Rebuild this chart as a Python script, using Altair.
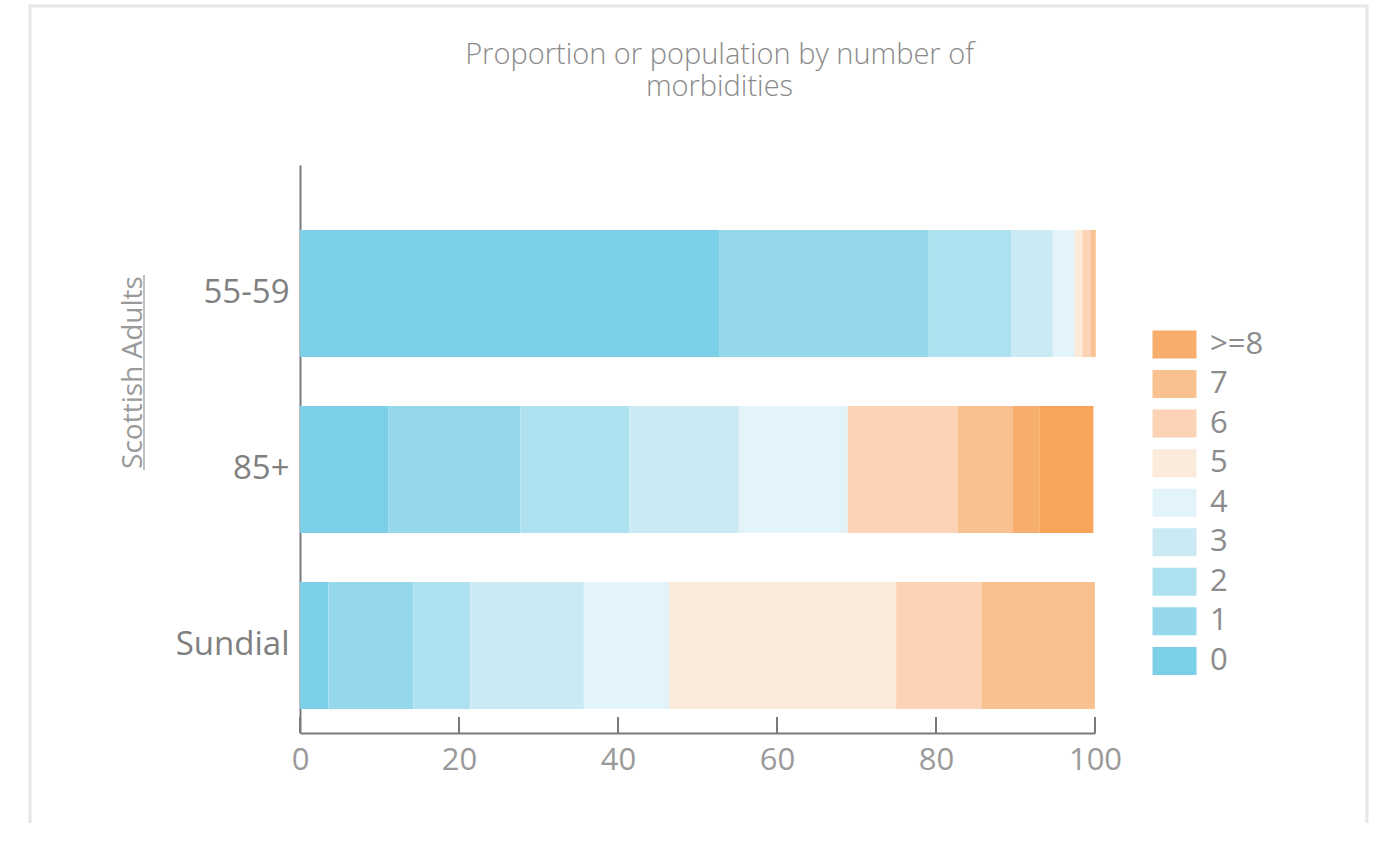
import altair as alt
import pandas as pd

# Population groups (top to bottom) and morbidity-count categories (left to right)
groups = ["55-59", "85+", "Sundial"]
counts = ["0", "1", "2", "3", "4", "5", "6", "7", ">=8", "9+"]

# Percentage of each group with the given number of morbidities
shares_55_59 = [52.8, 26.2, 10.5, 5.2, 2.7, 1.0, 1.1, 0.6, 0.0, 0.0]
shares_85_plus = [11.1, 16.6, 13.7, 13.8, 13.7, 0.0, 13.8, 6.9, 3.4, 6.8]
shares_sundial = [3.57, 10.71, 7.14, 14.29, 10.71, 28.57, 10.71, 14.29, 0.0, 0.0]

# Colours per category, same order as `counts`
palette = ["#7BCFE6", "#96D8EB", "#AEE1EF", "#CAEBF4", "#E2F4F9",
           "#FBEBDA", "#FCD4B5", "#F9C190", "#F7AD6B", "#F7A55A"]

legend_counts = [">=8", "7", "6", "5", "4", "3", "2", "1", "0"]
x_ticks = [0, 20, 40, 60, 80, 100]

rows = []
for g, shares in zip(groups, [shares_55_59, shares_85_plus, shares_sundial]):
    for rank, (c, s) in enumerate(zip(counts, shares)):
        rows.append({"group": g, "count": c, "share": s, "rank": rank})
df = pd.DataFrame(rows)

W, H = 795, 568
FONT = "Open Sans"

color_domain = legend_counts + ["9+"]
color_range = [palette[counts.index(c)] for c in color_domain]

x_scale = alt.Scale(domain=[0, 100], nice=False)
x_axis = alt.Axis(
    values=x_ticks, title=None, grid=False, ticks=False,
    domainColor="#7a7a7a", domainWidth=2,
    labelFont=FONT, labelFontSize=31, labelColor="#9a9a9a",
    labelPadding=12, labelFlush=False,
)

bars = alt.Chart(df).mark_bar().encode(
    x=alt.X("share:Q", stack="zero", scale=x_scale, axis=x_axis),
    y=alt.Y(
        "group:N",
        sort=groups,
        scale=alt.Scale(paddingInner=0.278, paddingOuter=0.2525, align=0.73),
        axis=alt.Axis(
            title="Scottish Adults", ticks=False, grid=False,
            domainColor="#7a7a7a", domainWidth=2,
            labelFont=FONT, labelFontSize=33, labelColor="#808080", labelPadding=11,
            titleFont=FONT, titleFontSize=28, titleFontWeight="normal", titleColor="#9a9a9a",
            titleAngle=-90, titleX=-159, titleY=207,
            titleAlign="center", titleBaseline="alphabetic",
        ),
    ),
    color=alt.Color(
        "count:N",
        scale=alt.Scale(domain=color_domain, range=color_range),
        legend=alt.Legend(
            values=legend_counts, title=None, orient="none",
            legendX=859, legendY=164, padding=0,
            symbolType="M-1.571,-1H1.571V1H-1.571Z", symbolSize=784,
            symbolStrokeWidth=0, symbolOpacity=1,
            labelFont=FONT, labelFontSize=31, labelColor="#8c8c8c",
            labelOffset=20, rowPadding=7.55,
        ),
    ),
    order=alt.Order("rank:Q", sort="ascending"),
)

# Inward-pointing tick marks on the value axis
tick_marks = alt.Chart(pd.DataFrame({"share": x_ticks})).mark_rule(
    color="#7a7a7a", strokeWidth=2
).encode(
    x=alt.X("share:Q", scale=x_scale, axis=x_axis),
    y=alt.value(H - 16),
    y2=alt.value(H),
)

# Underline beneath the rotated group-axis title
title_underline = alt.Chart(pd.DataFrame({"a": [0]})).mark_rule(
    color="#aaaaaa", strokeWidth=1.5
).encode(
    x=alt.value(-156), y=alt.value(110), y2=alt.value(305)
)

# Light card frame around the figure
frame = alt.Chart(pd.DataFrame({"a": [0]})).mark_rect(
    fill="#ffffff", fillOpacity=0, stroke="#e6e6e6", strokeWidth=3
).encode(
    x=alt.value(-270), x2=alt.value(1067), y=alt.value(-159), y2=alt.value(720)
)

chart = alt.layer(frame, bars, tick_marks, title_underline).properties(
    width=W,
    height=H,
    background="#ffffff",
    title=alt.Title(
        ["Proportion or population by number of", "morbidities"],
        font=FONT, fontSize=29, fontWeight=300, color="#8a8a8a",
        anchor="middle", dx=22, offset=-97, lineHeight=32,
    ),
    autosize=alt.AutoSizeParams(type="none"),
    padding={"left": 300, "top": 165, "right": 284, "bottom": 90},
).configure_view(stroke="transparent", strokeWidth=0)

chart.save("out.html", embed_options={"renderer": "svg", "actions": False})
